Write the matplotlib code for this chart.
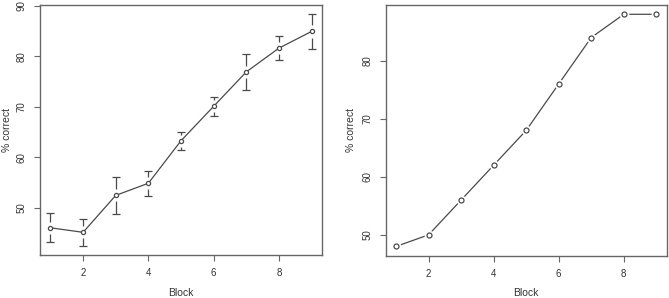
import numpy as np
import matplotlib
matplotlib.use('Agg')
import matplotlib.pyplot as plt

plt.rcParams['font.family'] = ['Liberation Sans', 'DejaVu Sans']

# left panel: mean % correct per block with error bars
block = [1, 2, 3, 4, 5, 6, 7, 8, 9]
mean_left = [46.1, 45.2, 52.5, 54.9, 63.3, 70.1, 76.9, 81.6, 84.9]
se_left = [2.9, 2.65, 3.7, 2.5, 1.8, 1.9, 3.5, 2.35, 3.4]

# right panel
pct_right = [48, 50, 56, 62, 68, 76, 84, 88, 88]

grey = '#4a4a4a'
frame = '#666666'

def r_range(lo, hi):
    d = (hi - lo) * 0.04
    return lo - d, hi + d

def style(ax, ylab_x, xlab_y):
    for s in ax.spines.values():
        s.set_color(frame)
        s.set_linewidth(1.0)
    ax.tick_params(direction='out', length=4, width=0.8, color=frame,
                   labelsize=7, labelcolor='#333333', pad=5.5)
    for lab in ax.get_yticklabels():
        lab.set_rotation(90)
        lab.set_va('center')
    ax.set_xlabel('Block', fontsize=7.5, color='#333333', va='center')
    ax.set_ylabel('% correct', fontsize=7.5, color='#333333', va='center')
    ax.yaxis.set_label_coords(ylab_x, 0.5)
    ax.xaxis.set_label_coords(0.5, xlab_y)

fig = plt.figure(figsize=(6.69, 2.98), dpi=100)
ax1 = fig.add_axes([0.0598, 0.1443, 0.4215, 0.839])
ax2 = fig.add_axes([0.5765, 0.1419, 0.4201, 0.8413])

x = np.array(block)
m = np.array(mean_left)
se = np.array(se_left)
gap = 1.2
ax1.plot(x, m, color=grey, lw=0.9, zorder=2)
ax1.plot(x, m, 'o', ms=3.0, mfc='white', mec=grey, mew=0.9, zorder=3)
ax1.vlines(x, m + gap, m + se, color=grey, lw=0.9)
ax1.vlines(x, m - se, m - gap, color=grey, lw=0.9)
ax1.plot(x, m + se, '_', ms=6, mew=0.9, color=grey)
ax1.plot(x, m - se, '_', ms=6, mew=0.9, color=grey)
ax1.set_xlim(r_range(1, 9))
ax1.set_ylim(r_range((m - se).min(), (m + se).max()))
ax1.set_xticks([2, 4, 6, 8])
ax1.set_yticks([50, 60, 70, 80, 90])

y2 = np.array(pct_right)
ax2.plot(x, y2, color=grey, lw=0.9, zorder=2)
ax2.plot(x, y2, 'o', ms=7, mfc='white', mec='none', zorder=3)
ax2.plot(x, y2, 'o', ms=3.6, mfc='white', mec=grey, mew=0.9, zorder=4)
ax2.set_xlim(r_range(1, 9))
ax2.set_ylim(r_range(y2.min(), y2.max()))
ax2.set_xticks([2, 4, 6, 8])
ax2.set_yticks([50, 60, 70, 80])

style(ax1, -0.118, -0.15)
style(ax2, -0.122, -0.148)

fig.savefig('out.png', dpi=100)
